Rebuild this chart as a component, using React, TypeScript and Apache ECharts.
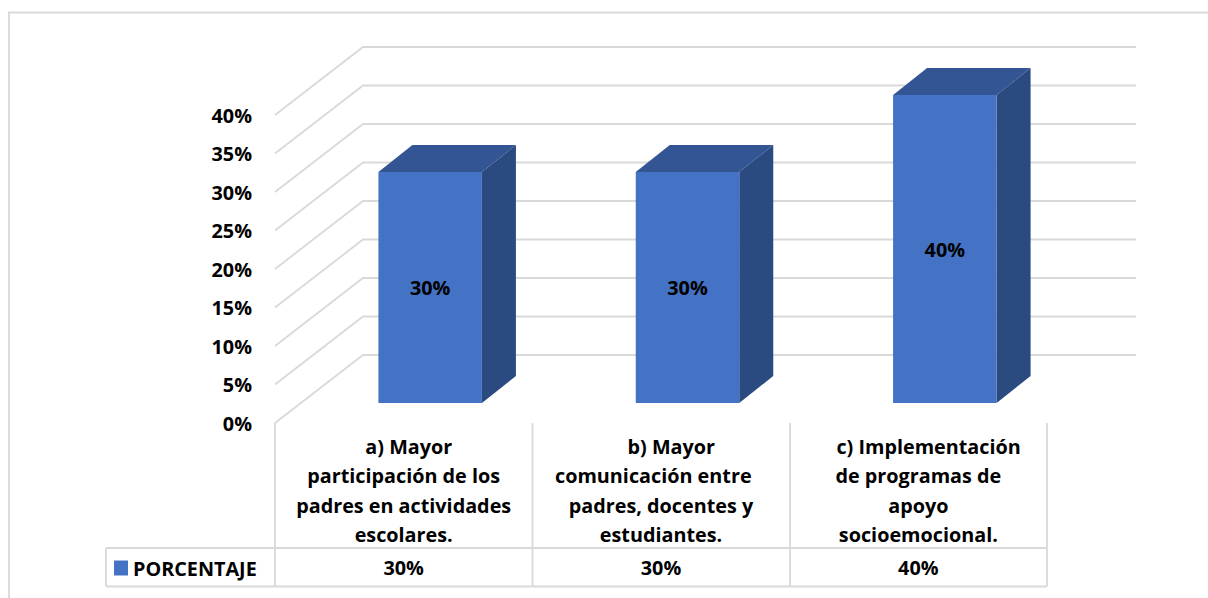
import React, { useEffect, useRef } from "react";
import * as echarts from "echarts";

const categories = [
  "  a) Mayor\nparticipación de los\npadres en actividades\nescolares.",
  "    b) Mayor\ncomunicación entre   \npadres, docentes y\nestudiantes.",
  "    c) Implementación\nde programas de\napoyo\nsocioemocional.",
];
const values = [30, 30, 40];
const ticks = [0, 5, 10, 15, 20, 25, 30, 35, 40];
const seriesName = "PORCENTAJE";

const FONT = "Open Sans";
const TEXT_SIZE = 19.8;
const NUM_SIZE = 19.8;
const WALL_DX = 88;
const WALL_DY = 68;
const BAR_W = 103.5;
const BAR_SHIFT = 26.5;
const BAR_LIFT = 20;
const DEPTH_DX = 34;
const DEPTH_DY = 27;
const GRID_COLOR = "#d9d9d9";

export default function App() {
  const ref = useRef<HTMLDivElement>(null);
  useEffect(() => {
    const chart = echarts.init(ref.current!, null, { renderer: "svg" });
    const lineStyle = { stroke: GRID_COLOR, lineWidth: 1.8, fill: "none" };
    const tableLine = (x1: number, y1: number, x2: number, y2: number) => ({
      type: "line",
      shape: { x1, y1, x2, y2 },
      style: { stroke: GRID_COLOR, lineWidth: 1.8 },
      silent: true,
    });
    chart.setOption({
      animation: false,
      backgroundColor: "#ffffff",
      textStyle: { fontFamily: FONT },
      grid: { left: 275, top: 115, width: 772, height: 308 },
      legend: {
        data: [seriesName],
        left: 114,
        top: 558,
        icon: "rect",
        itemWidth: 14,
        itemHeight: 15,
        itemGap: 0,
        padding: 0,
        textStyle: { fontFamily: FONT, fontWeight: "bold", fontSize: TEXT_SIZE, lineHeight: 15, color: "#000" },
      },
      xAxis: [
        {
          type: "category",
          data: categories,
          position: "bottom",
          axisLine: { show: false },
          axisTick: { show: false },
          axisLabel: {
            interval: 0,
            margin: 8.5,
            fontFamily: FONT,
            fontWeight: "bold",
            fontSize: TEXT_SIZE,
            lineHeight: 29.5,
            color: "#000",
            align: "center",
          },
        },
        {
          type: "category",
          data: values.map((v) => `${v}%`),
          position: "bottom",
          offset: 132,
          axisLine: { show: false },
          axisTick: { show: false },
          axisLabel: { interval: 0, margin: 0, fontFamily: FONT, fontWeight: "bold", fontSize: NUM_SIZE, lineHeight: 24, color: "#000" },
        },
      ],
      yAxis: {
        type: "value",
        min: 0,
        max: 40,
        interval: 5,
        axisLine: { show: false },
        axisTick: { show: false },
        splitLine: { show: false },
        axisLabel: { formatter: "{value}%", margin: 23, fontFamily: FONT, fontWeight: "bold", fontSize: NUM_SIZE, color: "#000" },
      },
      graphic: [
        { type: "polyline", shape: { points: [[9, 598], [9, 12.5], [1208, 12.5]] }, style: { stroke: GRID_COLOR, lineWidth: 1.8, fill: "none" }, silent: true },
        tableLine(106, 548, 1047, 548),
        tableLine(106, 586.5, 1047, 586.5),
        tableLine(106, 548, 106, 586.5),
        tableLine(275, 423, 275, 586.5),
        tableLine(532.5, 423, 532.5, 586.5),
        tableLine(790, 423, 790, 586.5),
        tableLine(1047, 423, 1047, 586.5),
      ],
      series: [
        {
          type: "custom",
          name: "walls",
          silent: true,
          z: 1,
          encode: { y: 0 },
          data: ticks.map((t) => [t]),
          renderItem: (params: any, api: any) => {
            const sys = params.coordSys;
            const y = api.coord([0, api.value(0)])[1];
            return {
              type: "polyline",
              shape: {
                points: [
                  [sys.x, y],
                  [sys.x + WALL_DX, y - WALL_DY],
                  [sys.x + sys.width + WALL_DX + 1, y - WALL_DY],
                ],
              },
              style: lineStyle,
            };
          },
        },
        {
          type: "custom",
          name: seriesName,
          z: 3,
          itemStyle: { color: "#4472c4" },
          encode: { x: 0, y: 1 },
          data: values.map((v, i) => [i, v]),
          renderItem: (_params: any, api: any) => {
            const idx = api.value(0);
            const val = api.value(1);
            const [cx, topRaw] = api.coord([idx, val]);
            const [, baseRaw] = api.coord([idx, 0]);
            const x0 = cx + BAR_SHIFT - BAR_W / 2;
            const x1 = x0 + BAR_W;
            const top = topRaw - BAR_LIFT;
            const base = baseRaw - BAR_LIFT;
            return {
              type: "group",
              children: [
                {
                  type: "polygon",
                  shape: { points: [[x0, top], [x1, top], [x1 + DEPTH_DX, top - DEPTH_DY], [x0 + DEPTH_DX, top - DEPTH_DY]] },
                  style: { fill: "#335593" },
                },
                {
                  type: "polygon",
                  shape: { points: [[x1, top], [x1 + DEPTH_DX, top - DEPTH_DY], [x1 + DEPTH_DX, base - DEPTH_DY], [x1, base]] },
                  style: { fill: "#2a4a80" },
                },
                {
                  type: "rect",
                  shape: { x: x0, y: top, width: BAR_W, height: base - top },
                  style: { fill: "#4472c4" },
                },
                {
                  type: "text",
                  x: (x0 + x1) / 2,
                  y: (top + base) / 2,
                  style: {
                    text: `${val}%`,
                    fill: "#000",
                    fontFamily: FONT,
                    fontWeight: "bold",
                    fontSize: NUM_SIZE,
                    align: "center",
                    verticalAlign: "middle",
                  },
                },
              ],
            };
          },
        },
      ],
    });
    return () => chart.dispose();
  }, []);
  return <div ref={ref} style={{ position: "absolute", left: 0, top: 0, width: 1208, height: 598 }} />;
}
